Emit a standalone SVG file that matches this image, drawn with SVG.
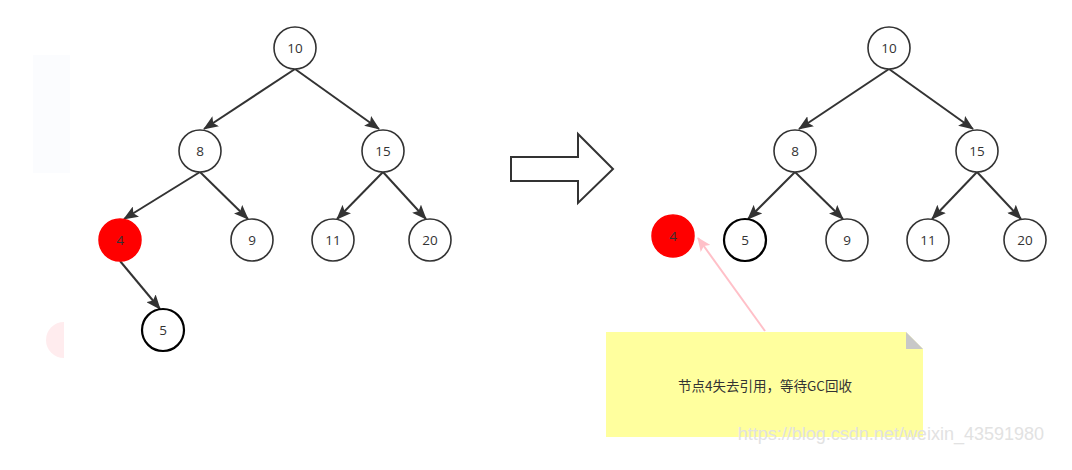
<svg xmlns="http://www.w3.org/2000/svg" width="1072" height="470" viewBox="0 0 1072 470">
<style>
.n{fill:#fff;stroke:#333;stroke-width:1.6}
.nb{fill:#fff;stroke:#000;stroke-width:2.2}
.nr{fill:#f00;stroke:#f00;stroke-width:1.5}
.t{font-family:"Open Sans","Liberation Sans",sans-serif;font-size:13.5px;fill:#333;text-anchor:middle;dominant-baseline:central}
.e{stroke:#333;stroke-width:2;fill:none;marker-end:url(#ah)}
</style>
<defs>
<marker id="ah" markerWidth="15" markerHeight="12" refX="14" refY="6" orient="auto" markerUnits="userSpaceOnUse" viewBox="0 0 15 12">
<path d="M0,0 L15,6 L0,12 L3,6 Z" fill="#333"/>
</marker>
<marker id="ap" markerWidth="14" markerHeight="12" refX="13" refY="6" orient="auto" markerUnits="userSpaceOnUse" viewBox="0 0 14 12">
<path d="M0,0 L14,6 L0,12 L3,6 Z" fill="#ffc0c8"/>
</marker>
</defs>
<rect width="1072" height="470" fill="#fff"/>
<rect x="33" y="55" width="37" height="118" fill="#fbfcfe"/>
<path d="M64,322 A18,18 0 0 0 64,358 Z" fill="#ffecee"/>

<g id="connectors">
<line class="e" x1="295" y1="69" x2="204" y2="129"/>
<line class="e" x1="295" y1="69" x2="379" y2="129"/>
<line class="e" x1="200" y1="172" x2="124" y2="219"/>
<line class="e" x1="200" y1="172" x2="248" y2="219"/>
<line class="e" x1="383" y1="172" x2="337" y2="219"/>
<line class="e" x1="383" y1="172" x2="426" y2="219"/>
<line class="e" x1="120" y1="261" x2="160" y2="309"/>
<line class="e" x1="889" y1="69" x2="799" y2="129"/>
<line class="e" x1="889" y1="69" x2="973" y2="129"/>
<line class="e" x1="795" y1="172" x2="748" y2="219"/>
<line class="e" x1="795" y1="172" x2="843" y2="219"/>
<line class="e" x1="977" y1="172" x2="932" y2="219"/>
<line class="e" x1="977" y1="172" x2="1021" y2="219"/>
<line x1="765" y1="331" x2="698" y2="238" stroke="#ffc0c8" stroke-width="2" marker-end="url(#ap)"/>
</g>

<g id="arrow-big"><path d="M511,157 H578 V134 L613,169 L578,203 V181 H511 Z" fill="#fff" stroke="#333" stroke-width="2"/></g>

<g id="L10"><circle class="n" cx="295" cy="48" r="21"/><text class="t" x="295" y="48">10</text></g>
<g id="L8"><circle class="n" cx="200" cy="151" r="21"/><text class="t" x="200" y="151">8</text></g>
<g id="L15"><circle class="n" cx="383" cy="151" r="21"/><text class="t" x="383" y="151">15</text></g>
<g id="L4"><circle class="nr" cx="120" cy="240" r="21"/><text class="t" x="120" y="240">4</text></g>
<g id="L9"><circle class="n" cx="252" cy="240" r="21"/><text class="t" x="252" y="240">9</text></g>
<g id="L11"><circle class="n" cx="333" cy="240" r="21"/><text class="t" x="333" y="240">11</text></g>
<g id="L20"><circle class="n" cx="430" cy="240" r="21"/><text class="t" x="430" y="240">20</text></g>
<g id="L5"><circle class="nb" cx="163" cy="330" r="21"/><text class="t" x="163" y="330">5</text></g>

<g id="R10"><circle class="n" cx="889" cy="48" r="21"/><text class="t" x="889" y="48">10</text></g>
<g id="R8"><circle class="n" cx="795" cy="151" r="21"/><text class="t" x="795" y="151">8</text></g>
<g id="R15"><circle class="n" cx="977" cy="151" r="21"/><text class="t" x="977" y="151">15</text></g>
<g id="R4"><circle class="nr" cx="673" cy="236" r="21"/><text class="t" x="673" y="236">4</text></g>
<g id="R5"><circle class="nb" cx="745" cy="240" r="21"/><text class="t" x="745" y="240">5</text></g>
<g id="R9"><circle class="n" cx="847" cy="240" r="21"/><text class="t" x="847" y="240">9</text></g>
<g id="R11"><circle class="n" cx="928" cy="240" r="21"/><text class="t" x="928" y="240">11</text></g>
<g id="R20"><circle class="n" cx="1025" cy="240" r="21"/><text class="t" x="1025" y="240">20</text></g>

<g id="note">
<path d="M606,332 H906 L923,349 V437 H606 Z" fill="#ffff9e"/>
<path d="M906,332 L923,349 H906 Z" fill="#c8c8c8"/>
<text x="765" y="385" font-family="'Noto Sans CJK SC','Noto Sans',sans-serif" font-size="13.5" fill="#333" text-anchor="middle" dominant-baseline="central">节点4失去引用，等待GC回收</text>
</g>
<text x="1044" y="434" font-family="'Liberation Sans',Arial,sans-serif" font-size="18" fill="#e2e2e2" text-anchor="end" dominant-baseline="central">https://blog.csdn.net/weixin_43591980</text>
</svg>
